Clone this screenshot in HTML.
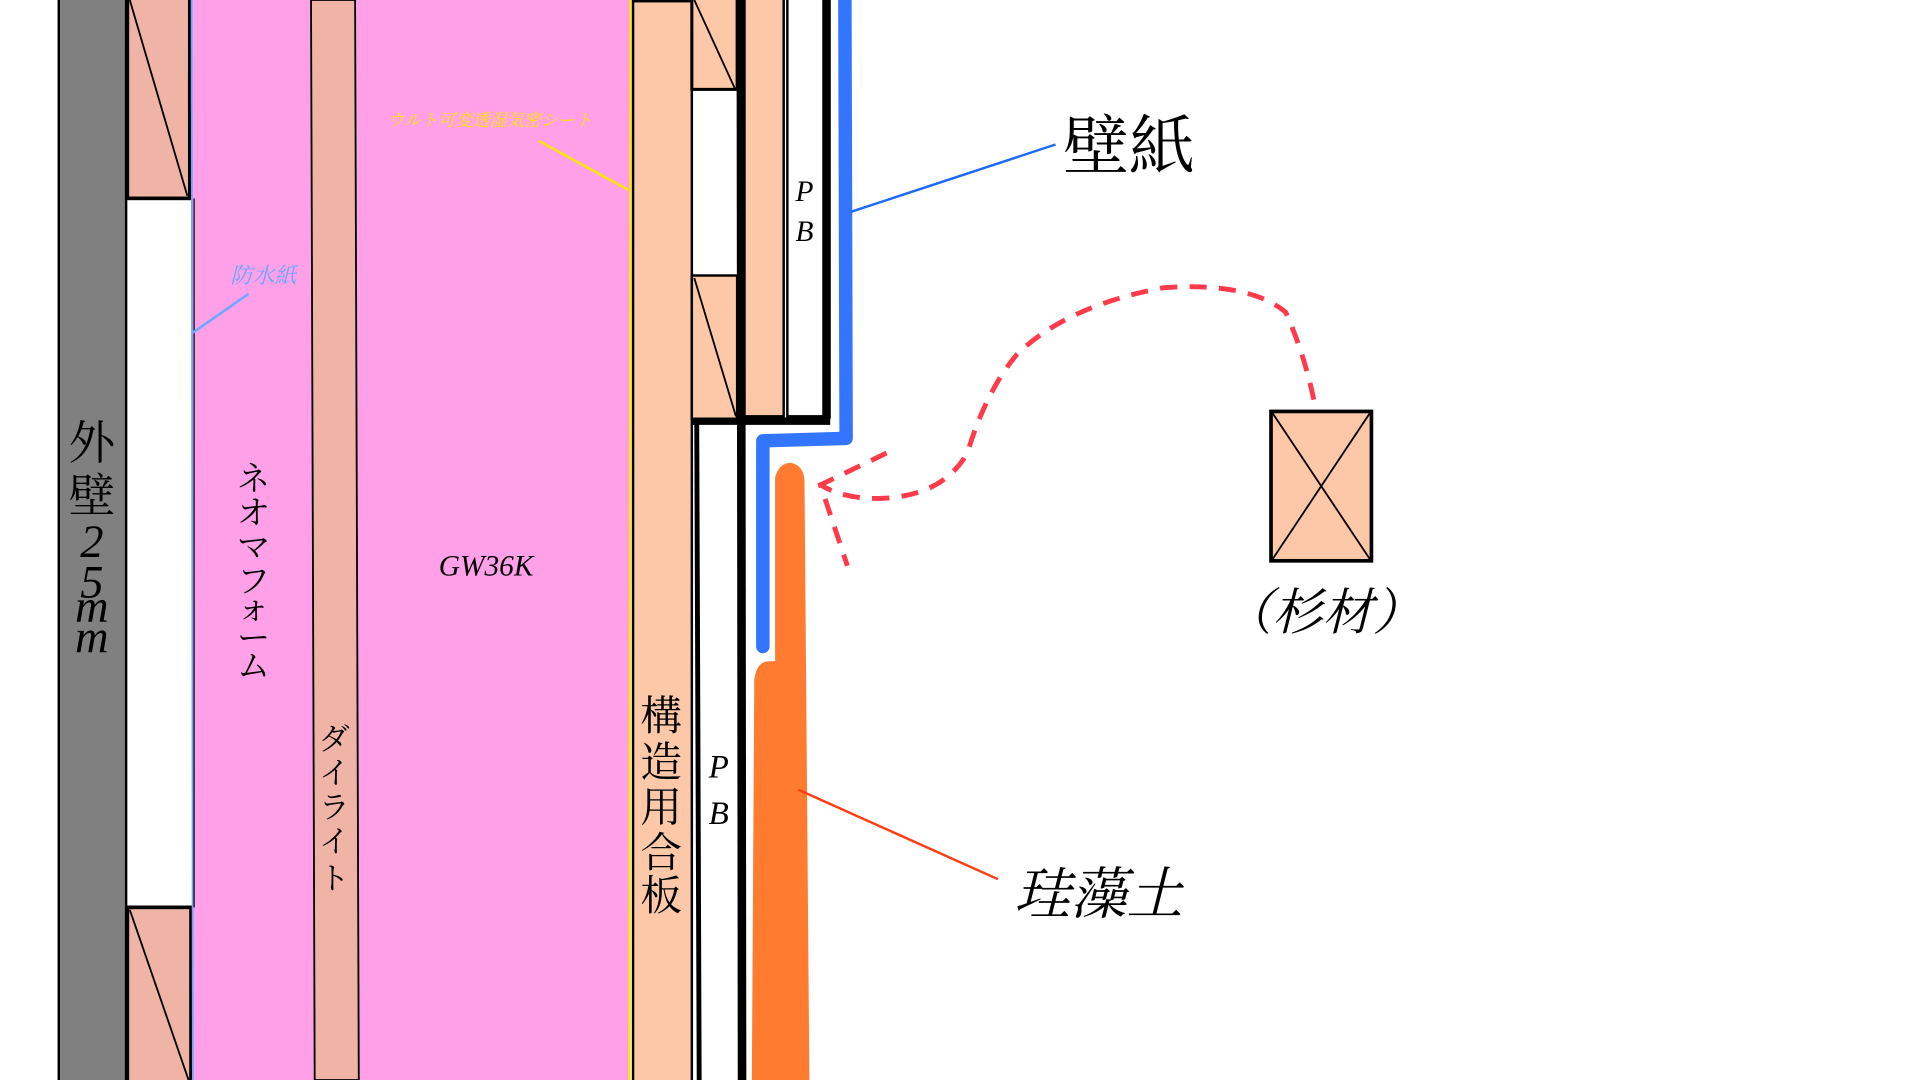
<!DOCTYPE html>
<html><head><meta charset="utf-8"><style>
html,body{margin:0;padding:0;background:#fff;overflow:hidden}
svg{display:block}
text{font-family:"Liberation Serif","Noto Serif CJK SC","Noto Sans CJK JP",serif}
</style></head><body>
<svg width="1920" height="1080" viewBox="0 0 1568 882" preserveAspectRatio="none" xmlns="http://www.w3.org/2000/svg">
<rect width="1568" height="882" fill="#fff"/>
<rect x="48" y="-2" width="55" height="890" fill="#808080" stroke="#000" stroke-width="2"/>
<rect x="104" y="-2" width="51" height="164" fill="#f0b4a6" stroke="#000" stroke-width="3"/>
<line x1="106" y1="0" x2="153" y2="160" stroke="#000" stroke-width="1.5"/>
<rect x="104" y="741" width="52" height="150" fill="#f0b4a6" stroke="#000" stroke-width="3"/>
<line x1="106" y1="743" x2="154" y2="882" stroke="#000" stroke-width="1.5"/>
<rect x="157" y="0" width="358" height="882" fill="#ffa0e8"/>
<line x1="156.5" y1="0" x2="157.5" y2="882" stroke="#6aa8ff" stroke-width="1.5"/>
<line x1="158.5" y1="162" x2="158.5" y2="741" stroke="#000" stroke-width="1"/>
<polygon points="254,0 290,0 293,882 257,882" fill="#f0b4a6" stroke="#000" stroke-width="1.5"/>
<line x1="515" y1="0" x2="514" y2="882" stroke="#ffe800" stroke-width="2"/>
<rect x="517" y="1" width="48" height="890" fill="#fdc8a8" stroke="#000" stroke-width="2"/>
<rect x="565" y="-2" width="37" height="75" fill="#fdc8a8" stroke="#000" stroke-width="2.5"/>
<line x1="567" y1="0" x2="600" y2="72" stroke="#000" stroke-width="1.5"/>
<rect x="565" y="225" width="37" height="117" fill="#fdc8a8" stroke="#000" stroke-width="2"/>
<line x1="567" y1="227" x2="601" y2="340" stroke="#000" stroke-width="1.5"/>
<rect x="608" y="-2" width="32" height="342" fill="#fdc8a8" stroke="#000" stroke-width="2"/>
<rect x="643" y="-2" width="30" height="342" fill="#fff" stroke="#000" stroke-width="2"/>
<line x1="675" y1="0" x2="675" y2="342" stroke="#000" stroke-width="7"/>
<line x1="565" y1="344" x2="678" y2="344" stroke="#000" stroke-width="6"/>
<line x1="569" y1="345" x2="571" y2="882" stroke="#000" stroke-width="4"/>
<line x1="605" y1="0" x2="606" y2="882" stroke="#000" stroke-width="7"/>
<path d="M690,0 L691,358 L623,360 L623,528" fill="none" stroke="#3375ff" stroke-width="11" stroke-linejoin="round" stroke-linecap="round"/>
<path d="M633,390 Q636,378 646,378 Q656,380 657,392 L661,882 L614,882 L616,555 Q618,540 628,540 L633,540 Z" fill="#ff7b30"/>
<line x1="862" y1="118" x2="695" y2="173" stroke="#1e6aff" stroke-width="2"/>
<line x1="815" y1="718" x2="652" y2="645" stroke="#ff3d14" stroke-width="2"/>
<line x1="157" y1="272" x2="203" y2="240" stroke="#6aa8ff" stroke-width="2"/>
<line x1="440" y1="115" x2="513" y2="155" stroke="#ffe800" stroke-width="2"/>
<path d="M1077,350 Q1070,300 1050,255 Q1020,230 950,235 Q870,250 830,290 Q805,320 790,370 Q770,405 720,407 Q690,408 670,396" fill="none" stroke="#ff3a4a" stroke-width="4" stroke-dasharray="14 10"/>
<path d="M724,370 L670,396 L692,462" fill="none" stroke="#ff3a4a" stroke-width="4" stroke-dasharray="14 10"/>
<rect x="1038" y="336" width="82" height="122" fill="#fdc8a8" stroke="#000" stroke-width="3"/>
<line x1="1039" y1="337" x2="1119" y2="457" stroke="#000" stroke-width="1.5"/>
<line x1="1119" y1="337" x2="1039" y2="457" stroke="#000" stroke-width="1.5"/>
<text x="1080" y="514" font-size="41" font-style="italic" text-anchor="middle">（杉材）</text>
<text x="868" y="138" font-size="54">壁紙</text>
<text x="828" y="746" font-size="46" font-style="italic">珪藻土</text>
<text x="397" y="470" font-size="24" font-style="italic" text-anchor="middle">GW36K</text>
<text x="215" y="231" font-size="18" fill="#6aa8ff" text-anchor="middle" font-style="italic">防水紙</text>
<text x="400" y="103" font-size="14" fill="#ffe600" text-anchor="middle" font-style="italic">ウルト可変透湿気密シート</text>
<g font-size="38" text-anchor="middle">
<text x="75" y="375">外</text><text x="75" y="418">壁</text>
<text x="75" y="455" font-style="italic">2</text><text x="75" y="488" font-style="italic">5</text>
<text x="75" y="508" font-style="italic">m</text><text x="75" y="533" font-style="italic">m</text>
</g>
<g font-size="27" text-anchor="middle">
<text x="207" y="400">ネ</text><text x="207" y="428">オ</text><text x="207" y="456">マ</text>
<text x="207" y="484">フ</text><text x="207" y="506">ォ</text><text x="207" y="530">ー</text><text x="207" y="553">ム</text>
</g>
<g font-size="25" text-anchor="middle">
<text x="273" y="612">ダ</text><text x="273" y="640">イ</text><text x="273" y="668">ラ</text>
<text x="273" y="696">イ</text><text x="273" y="726">ト</text>
</g>
<g font-size="34" text-anchor="middle">
<text x="540" y="596">構</text><text x="540" y="634">造</text><text x="540" y="671">用</text>
<text x="540" y="708">合</text><text x="540" y="743">板</text>
</g>
<g font-size="24" font-style="italic" text-anchor="middle">
<text x="657" y="164">P</text><text x="657" y="197">B</text>
<text x="587" y="635" font-size="27">P</text><text x="587" y="673" font-size="27">B</text>
</g>
</svg>
</body></html>
